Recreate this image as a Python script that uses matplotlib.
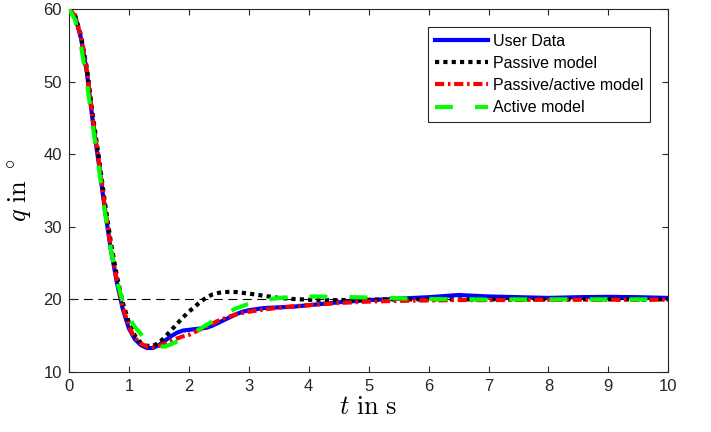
import numpy as np
import matplotlib
matplotlib.use("Agg")
import matplotlib.pyplot as plt

plt.rcParams.update({
    "font.family": ["Liberation Sans", "DejaVu Sans"],
    "font.size": 10,
    "mathtext.fontset": "cm",
})

# === datos ===
t = [0.0, 0.1, 0.2, 0.3, 0.4, 0.5, 0.6, 0.7, 0.8, 0.9,
     1.0, 1.1, 1.2, 1.3, 1.4, 1.5, 1.6, 1.7, 1.8, 1.9,
     2.0, 2.1, 2.2, 2.3, 2.4, 2.5, 2.6, 2.7, 2.8, 2.9,
     3.0, 3.25, 3.5, 3.75, 4.0, 4.5, 5.0, 5.5, 6.0, 6.5,
     7.0, 7.5, 8.0, 8.5, 9.0, 9.5, 10.0]

user_data = [60.0, 59.0, 56.0, 51.2, 44.3, 38.6, 32.3, 26.8, 22.3, 18.6,
             16.0, 14.5, 13.7, 13.3, 13.3, 13.7, 14.3, 14.9, 15.4, 15.7,
             15.8, 15.9, 16.0, 16.1, 16.4, 16.8, 17.2, 17.6, 18.0, 18.3,
             18.5, 18.8, 18.9, 19.0, 19.2, 19.6, 19.9, 20.1, 20.3, 20.6,
             20.4, 20.3, 20.2, 20.3, 20.35, 20.3, 20.2]

passive = [60.0, 59.2, 56.4, 51.8, 45.2, 39.5, 33.3, 27.8, 23.2, 19.5,
           16.8, 15.0, 14.0, 13.6, 13.6, 14.0, 14.8, 15.7, 16.6, 17.5,
           18.3, 19.0, 19.7, 20.3, 20.7, 20.9, 21.0, 21.05, 21.0, 20.9,
           20.8, 20.5, 20.2, 20.05, 19.95, 19.9, 19.95, 20.0, 20.0, 20.0,
           20.0, 20.0, 20.0, 20.0, 20.0, 20.0, 20.0]

passive_active = [60.0, 59.1, 56.2, 51.4, 44.6, 38.9, 32.6, 27.1, 22.6, 18.9,
                  16.2, 14.7, 13.9, 13.5, 13.4, 13.6, 13.9, 14.3, 14.6, 14.9,
                  15.1, 15.5, 15.9, 16.3, 16.7, 17.1, 17.4, 17.7, 17.95, 18.15,
                  18.3, 18.6, 18.85, 19.05, 19.2, 19.5, 19.7, 19.8, 19.85, 19.9,
                  19.9, 19.92, 19.95, 19.95, 19.95, 19.95, 19.95]

active = [60.0, 58.6, 55.0, 49.8, 43.8, 38.0, 32.0, 26.8, 22.6, 19.6,
          17.5, 16.2, 15.2, 14.4, 13.8, 13.5, 13.5, 13.8, 14.2, 14.6,
          15.0, 15.5, 16.0, 16.5, 17.0, 17.5, 18.0, 18.4, 18.8, 19.1,
          19.4, 19.9, 20.2, 20.35, 20.4, 20.35, 20.25, 20.15, 20.05, 20.0,
          19.98, 20.0, 20.0, 20.0, 20.0, 20.0, 20.0]

q_ref = 20
x_ticks = list(range(0, 11))
y_ticks = [10, 20, 30, 40, 50, 60]

# === figura ===
fig = plt.figure(figsize=(7.11, 4.32), dpi=100)
ax = fig.add_axes([0.097, 0.139, 0.843, 0.840])

ax.plot([t[0], t[-1]], [q_ref, q_ref], color='k', lw=0.8, linestyle=(0, (8, 5)), zorder=1)

ax.plot(t, user_data, color='#0000ff', lw=3, label='User Data', zorder=2)
ax.plot(t, passive, color='k', lw=3, linestyle=(0, (1, 1)), label='Passive model', zorder=3)
ax.plot(t, passive_active, color='#ff0000', lw=3, linestyle=(0, (2.2, 0.9, 0.6, 0.9)),
        label='Passive/active model', zorder=4)
ax.plot(t, active, color='#00ff00', lw=3, linestyle=(0, (4.3, 5.3)), label='Active model', zorder=5)

ax.set_xlim(0, 10)
ax.set_ylim(10, 60)
ax.set_xticks(x_ticks)
ax.set_yticks(y_ticks)

for s in ax.spines.values():
    s.set_color('#262626')
    s.set_linewidth(0.8)
ax.tick_params(direction='in', length=4, width=0.8, color='#262626', labelcolor='#262626',
               top=True, right=True, labelsize=12, pad=5)

ax.set_xlabel(r'$t\ \mathrm{in\ s}$', fontsize=19, labelpad=1)
ax.set_ylabel(r'$q\ \mathrm{in}\ {}^\circ$', fontsize=19, labelpad=6)

leg = ax.legend(loc='upper right', bbox_to_anchor=(650 / 711, 1 - 27 / 432),
                bbox_transform=fig.transFigure, borderaxespad=0, fancybox=False,
                framealpha=1, edgecolor='#262626', handlelength=3.35, handletextpad=0.3,
                labelspacing=0.45, borderpad=0.42, fontsize=11.5)
leg.get_frame().set_linewidth(0.8)

fig.savefig('out.png', dpi=100)
